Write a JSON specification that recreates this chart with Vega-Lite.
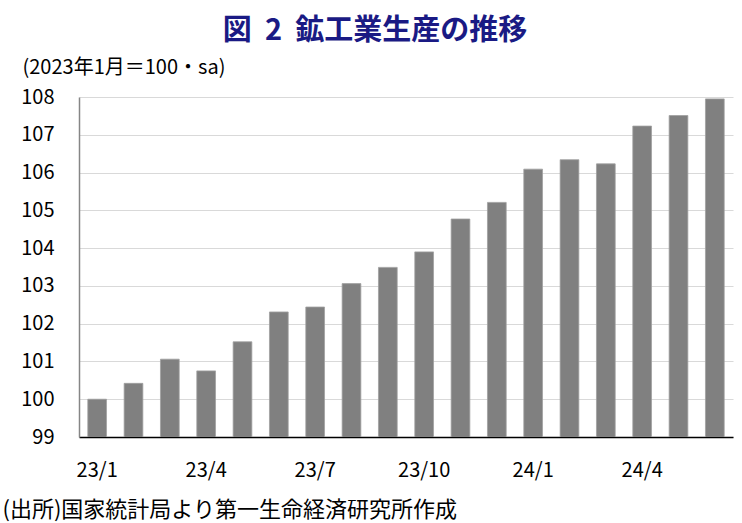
{
  "$schema": "https://vega.github.io/schema/vega-lite/v6.json",
  "width": 654,
  "height": 340,
  "autosize": {"type": "none"},
  "padding": {"left": 79, "top": 97, "right": 9, "bottom": 86},
  "background": "white",
  "config": {
    "view": {"stroke": null},
    "font": "Noto Sans CJK JP"
  },
  "title": {
    "text": "図\u00a0 2\u00a0 鉱工業生産の推移",
    "anchor": "middle",
    "frame": "group",
    "dx": -31,
    "offset": -18,
    "baseline": "bottom",
    "fontSize": 29,
    "fontWeight": "bold",
    "color": "#1a1a84",
    "font": "Noto Sans CJK JP"
  },
  "data": {
    "values": [
      {"month": "23/1", "value": 100.0},
      {"month": "23/2", "value": 100.42},
      {"month": "23/3", "value": 101.06},
      {"month": "23/4", "value": 100.75},
      {"month": "23/5", "value": 101.52},
      {"month": "23/6", "value": 102.31},
      {"month": "23/7", "value": 102.44},
      {"month": "23/8", "value": 103.06},
      {"month": "23/9", "value": 103.49},
      {"month": "23/10", "value": 103.9},
      {"month": "23/11", "value": 104.77},
      {"month": "23/12", "value": 105.21},
      {"month": "24/1", "value": 106.09},
      {"month": "24/2", "value": 106.34},
      {"month": "24/3", "value": 106.23},
      {"month": "24/4", "value": 107.23},
      {"month": "24/5", "value": 107.51},
      {"month": "24/6", "value": 107.95}
    ]
  },
  "mark": {"type": "bar", "color": "#808080", "stroke": "#a0a0a0", "strokeWidth": 0.8, "clip": true},
  "encoding": {
    "x": {
      "field": "month",
      "type": "ordinal",
      "sort": null,
      "scale": {"paddingInner": 0.485, "paddingOuter": 0.2425},
      "axis": {
        "title": "(出所)国家統計局より第一生命経済研究所作成",
        "titleX": -77,
        "titleY": 72,
        "titleAlign": "left",
        "titleAnchor": null,
        "titleBaseline": "middle",
        "titleFontSize": 22,
        "titleFontWeight": "normal",
        "titleColor": "#000000",
        "labelAngle": 0,
        "labelFontSize": 20,
        "labelColor": "#000000",
        "labelPadding": 33,
        "labelBaseline": "middle",
        "labelExpr": "indexof(['23/1','23/4','23/7','23/10','24/1','24/4'], datum.value) >= 0 ? datum.value : ''",
        "ticks": false,
        "domainColor": "#000000",
        "domainWidth": 1.5,
        "grid": false
      }
    },
    "y": {
      "field": "value",
      "type": "quantitative",
      "scale": {"domain": [99, 108], "zero": false, "nice": false},
      "axis": {
        "title": "(2023年1月＝100・sa)",
        "titleAngle": 0,
        "titleX": -57,
        "titleY": -30,
        "titleAlign": "left",
        "titleBaseline": "middle",
        "titleFontSize": 20,
        "titleFontWeight": "normal",
        "titleColor": "#000000",
        "values": [99, 100, 101, 102, 103, 104, 105, 106, 107, 108],
        "labelFontSize": 20,
        "labelColor": "#000000",
        "labelPadding": 25,
        "labelBaseline": "middle",
        "ticks": false,
        "domainColor": "#868686",
        "domainWidth": 1.5,
        "grid": true,
        "gridColor": "#d9d9d9",
        "gridWidth": 1
      }
    }
  }
}
